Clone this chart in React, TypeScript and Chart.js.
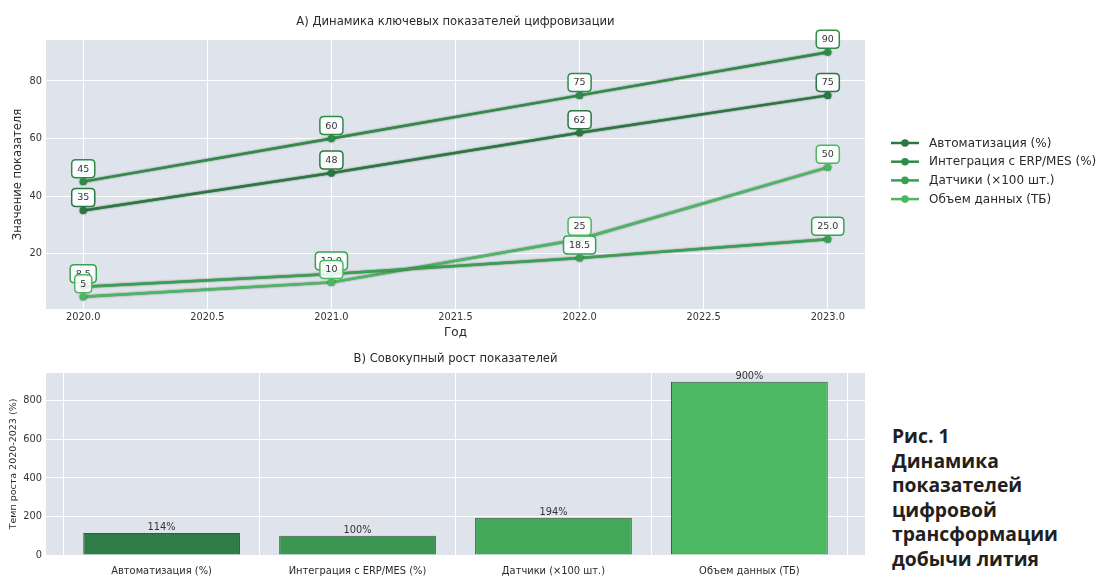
import React, { useEffect, useRef } from "react";
import { Chart, registerables } from "chart.js";

Chart.register(...registerables);

// ---------- data ----------
const years = [2020, 2021, 2022, 2023];
const seriesNames = [
  "Автоматизация (%)",
  "Интеграция с ERP/MES (%)",
  "Датчики (×100 шт.)",
  "Объем данных (ТБ)",
];
const automation = [35, 48, 62, 75];
const erpIntegration = [45, 60, 75, 90];
const sensors = [8.5, 12.9, 18.5, 25.0];
const dataVolume = [5, 10, 25, 50];
const labelDecimals = [0, 0, 1, 0];

const xTickValues = [2020, 2020.5, 2021, 2021.5, 2022, 2022.5, 2023];
const yTickValues = [20, 40, 60, 80];

const growthCategories = seriesNames;
const growthValues = [114, 100, 194, 900];
const growthTicks = [0, 200, 400, 600, 800];

const lineColors = ["#2a7740", "#2f8c47", "#39a052", "#4bb85f"];
const barColors = ["#2e7d45", "#3a9651", "#43a859", "#4cb862"];

const titleTop = "А) Динамика ключевых показателей цифровизации";
const titleBottom = "В) Совокупный рост показателей";
const captionLines = [
  "Рис. 1",
  "Динамика",
  "показателей",
  "цифровой",
  "трансформации",
  "добычи лития",
];

const FONT = "'DejaVu Sans', sans-serif";
const PLOT_BG = "#dfe4ec";
const TEXT = "#2a2a2a";

// ---------- plugins ----------
const bgPlugin = {
  id: "plotBg",
  beforeDraw(chart: any) {
    const { ctx, chartArea: a } = chart;
    ctx.save();
    ctx.fillStyle = PLOT_BG;
    ctx.fillRect(a.left, a.top, a.right - a.left, a.bottom - a.top);
    ctx.restore();
  },
};

const makeTitlePlugin = (text: string, y: number) => ({
  id: "customTitle",
  afterDraw(chart: any) {
    const { ctx, chartArea: a } = chart;
    ctx.save();
    ctx.font = `11.6px ${FONT}`;
    ctx.fillStyle = TEXT;
    ctx.textAlign = "center";
    ctx.textBaseline = "middle";
    ctx.fillText(text, (a.left + a.right) / 2, y);
    ctx.restore();
  },
});

const lineShadowPlugin = {
  id: "lineShadow",
  beforeDatasetDraw(chart: any) {
    const ctx = chart.ctx;
    ctx.save();
    ctx.shadowColor = "rgba(10,40,15,0.7)";
    ctx.shadowBlur = 1.8;
  },
  afterDatasetDraw(chart: any) {
    chart.ctx.restore();
  },
};

function roundRect(ctx: any, x: number, y: number, w: number, h: number, r: number) {
  ctx.beginPath();
  ctx.moveTo(x + r, y);
  ctx.lineTo(x + w - r, y);
  ctx.quadraticCurveTo(x + w, y, x + w, y + r);
  ctx.lineTo(x + w, y + h - r);
  ctx.quadraticCurveTo(x + w, y + h, x + w - r, y + h);
  ctx.lineTo(x + r, y + h);
  ctx.quadraticCurveTo(x, y + h, x, y + h - r);
  ctx.lineTo(x, y + r);
  ctx.quadraticCurveTo(x, y, x + r, y);
  ctx.closePath();
}

const pointLabelPlugin = {
  id: "pointLabels",
  afterDatasetsDraw(chart: any) {
    const { ctx } = chart;
    ctx.save();
    ctx.font = `9.5px ${FONT}`;
    ctx.textAlign = "center";
    ctx.textBaseline = "middle";
    chart.data.datasets.forEach((ds: any, i: number) => {
      const meta = chart.getDatasetMeta(i);
      meta.data.forEach((el: any, j: number) => {
        const v = ds.data[j].y;
        const txt = Number(v).toFixed(labelDecimals[i]);
        const tw = ctx.measureText(txt).width;
        const w = tw + 11;
        const h = 18;
        const cx = el.x;
        const cy = el.y - 13;
        roundRect(ctx, cx - w / 2, cy - h / 2, w, h, 4);
        ctx.fillStyle = "rgba(255,255,255,0.88)";
        ctx.fill();
        ctx.lineWidth = 1.5;
        ctx.strokeStyle = lineColors[i];
        ctx.stroke();
        ctx.fillStyle = "#333";
        ctx.fillText(txt, cx, cy + 0.5);
      });
    });
    ctx.restore();
  },
};

const legendPlugin = {
  id: "customLegend",
  afterDraw(chart: any) {
    const { ctx } = chart;
    ctx.save();
    ctx.font = `12px ${FONT}`;
    ctx.textAlign = "left";
    ctx.textBaseline = "middle";
    seriesNames.forEach((name, i) => {
      const y = 143 + i * 18.7;
      ctx.strokeStyle = lineColors[i];
      ctx.lineWidth = 2.5;
      ctx.beginPath();
      ctx.moveTo(891, y);
      ctx.lineTo(919, y);
      ctx.stroke();
      ctx.fillStyle = lineColors[i];
      ctx.beginPath();
      ctx.arc(905, y, 3.8, 0, Math.PI * 2);
      ctx.fill();
      ctx.fillStyle = TEXT;
      ctx.fillText(name, 929, y + 0.5);
    });
    ctx.restore();
  },
};

const barLabelPlugin = {
  id: "barLabels",
  afterDatasetsDraw(chart: any) {
    const { ctx } = chart;
    ctx.save();
    ctx.font = `9.8px ${FONT}`;
    ctx.fillStyle = "#333";
    ctx.textAlign = "center";
    ctx.textBaseline = "bottom";
    const meta = chart.getDatasetMeta(0);
    meta.data.forEach((el: any, j: number) => {
      ctx.fillText(`${growthValues[j]}%`, el.x, el.y - 0.5);
    });
    ctx.restore();
  },
};

// ---------- charts ----------
function TopChart() {
  const ref = useRef<HTMLCanvasElement | null>(null);
  useEffect(() => {
    if (!ref.current) return;
    const seriesValues = [automation, erpIntegration, sensors, dataVolume];
    const chart = new Chart(ref.current, {
      type: "line",
      data: {
        datasets: seriesValues.map((vals, i) => ({
          label: seriesNames[i],
          data: years.map((x, j) => ({ x, y: vals[j] })),
          borderColor: lineColors[i],
          backgroundColor: lineColors[i],
          borderWidth: 2.4,
          pointRadius: 3.6,
          pointBorderWidth: 0,
          pointBackgroundColor: lineColors[i],
          tension: 0,
          fill: false,
        })),
      },
      options: {
        responsive: false,
        animation: false,
        devicePixelRatio: 1,
        layout: { padding: { left: 0, right: 237, top: 40, bottom: 0 } },
        plugins: {
          legend: { display: false },
          title: { display: false },
          tooltip: { enabled: false },
        },
        scales: {
          x: {
            type: "linear",
            min: 2019.85,
            max: 2023.15,
            afterBuildTicks: (s: any) => {
              s.ticks = xTickValues.map((v) => ({ value: v }));
            },
            afterFit: (s: any) => {
              s.height = 36;
            },
            ticks: {
              callback: (v: any) => Number(v).toFixed(1),
              font: { family: FONT, size: 9.8 },
              color: "#333",
              padding: 3,
              maxRotation: 0,
              autoSkip: false,
            },
            grid: { color: "#ffffff", lineWidth: 1, drawTicks: false },
            border: { display: false },
            title: {
              display: true,
              text: "Год",
              font: { family: FONT, size: 12 },
              color: TEXT,
              padding: { top: 0, bottom: 5 },
            },
          },
          y: {
            type: "linear",
            min: 0.75,
            max: 94.25,
            afterBuildTicks: (s: any) => {
              s.ticks = yTickValues.map((v) => ({ value: v }));
            },
            afterFit: (s: any) => {
              s.width = 46;
            },
            ticks: {
              font: { family: FONT, size: 9.8 },
              color: "#333",
              padding: 4,
            },
            grid: { color: "#ffffff", lineWidth: 1, drawTicks: false },
            border: { display: false },
            title: {
              display: true,
              text: "Значение показателя",
              font: { family: FONT, size: 11.5 },
              color: TEXT,
              padding: { top: 11, bottom: 0 },
            },
          },
        },
      },
      plugins: [bgPlugin, lineShadowPlugin, pointLabelPlugin, legendPlugin, makeTitlePlugin(titleTop, 22)],
    } as any);
    return () => chart.destroy();
  }, []);
  return (
    <canvas
      ref={ref}
      width={1102}
      height={345}
      style={{ position: "absolute", left: 0, top: 0, width: 1102, height: 345 }}
    />
  );
}

function BottomChart() {
  const ref = useRef<HTMLCanvasElement | null>(null);
  useEffect(() => {
    if (!ref.current) return;
    const chart = new Chart(ref.current, {
      type: "bar",
      data: {
        datasets: [
          {
            label: "Темп роста",
            data: growthValues.map((y, i) => ({ x: i, y })),
            backgroundColor: barColors,
            borderColor: "rgba(35,60,40,0.85)",
            borderWidth: 1,
            categoryPercentage: 0.8,
            barPercentage: 1,
          },
        ],
      },
      options: {
        responsive: false,
        animation: false,
        devicePixelRatio: 1,
        layout: { padding: { left: 0, right: 15, top: 28, bottom: 0 } },
        plugins: {
          legend: { display: false },
          title: { display: false },
          tooltip: { enabled: false },
        },
        scales: {
          x: {
            type: "linear",
            offset: false,
            min: -0.59,
            max: 3.59,
            afterBuildTicks: (s: any) => {
              s.ticks = growthCategories.map((_, i) => ({ value: i }));
            },
            afterFit: (s: any) => {
              s.height = 22;
            },
            ticks: {
              callback: (v: any) => growthCategories[Math.round(Number(v))] ?? "",
              font: { family: FONT, size: 9.9 },
              color: TEXT,
              padding: 10,
              maxRotation: 0,
              autoSkip: false,
            },
            grid: { color: "#ffffff", lineWidth: 1, drawTicks: false },
            border: { display: false },
          },
          y: {
            type: "linear",
            min: 0,
            max: 945,
            afterBuildTicks: (s: any) => {
              s.ticks = growthTicks.map((v) => ({ value: v }));
            },
            afterFit: (s: any) => {
              s.width = 46;
            },
            ticks: {
              font: { family: FONT, size: 9.8 },
              color: "#333",
              padding: 4,
            },
            grid: { color: "#ffffff", lineWidth: 1, drawTicks: false },
            border: { display: false },
            title: {
              display: true,
              text: "Темп роста 2020-2023 (%)",
              font: { family: FONT, size: 9.5 },
              color: TEXT,
              padding: { top: 8, bottom: 0 },
            },
          },
        },
      },
      plugins: [bgPlugin, barLabelPlugin, makeTitlePlugin(titleBottom, 14)],
    } as any);
    return () => chart.destroy();
  }, []);
  return (
    <canvas
      ref={ref}
      width={880}
      height={232}
      style={{ position: "absolute", left: 0, top: 345, width: 880, height: 232 }}
    />
  );
}

export default function App() {
  return (
    <div
      style={{
        position: "fixed",
        left: 0,
        top: 0,
        width: 1102,
        height: 577,
        background: "#ffffff",
        overflow: "hidden",
      }}
    >
      <TopChart />
      <BottomChart />
      <div
        style={{
          position: "absolute",
          left: 892,
          top: 424,
          fontFamily: "'Open Sans', sans-serif",
          fontWeight: 700,
          fontSize: 19.3,
          lineHeight: "24.6px",
          color: "#231f20",
        }}
      >
        {captionLines.map((l, i) => (
          <div key={i}>{l}</div>
        ))}
      </div>
    </div>
  );
}
